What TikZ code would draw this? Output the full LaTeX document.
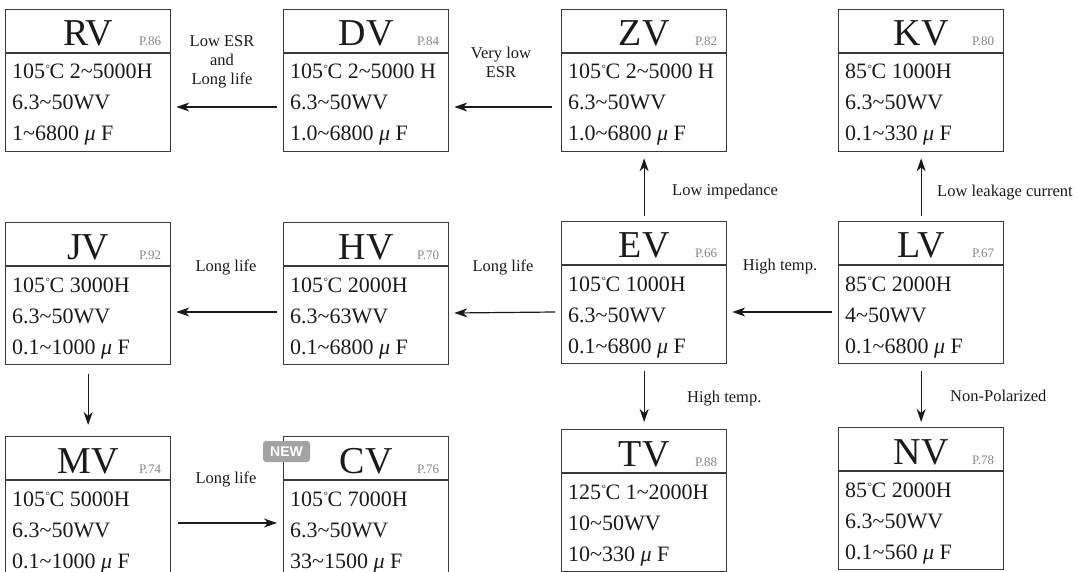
\documentclass[tikz,border=0pt]{standalone}
\usepackage{fontspec}
\setmainfont{Liberation Serif}
\newfontfamily\badgefont{Liberation Sans}
\usetikzlibrary{arrows.meta,calc}
\definecolor{framecol}{HTML}{3A3A3A}
\definecolor{pagegray}{HTML}{858585}
\definecolor{badgegray}{HTML}{A3A3A3}
\definecolor{inkcol}{HTML}{1A1A1A}
\tikzset{
  boxframe/.style={draw=framecol, line width=1.3pt, minimum width=165pt, minimum height=142pt, inner sep=0pt, anchor=north west},
  divider/.style={draw=framecol, line width=1.3pt},
  titletext/.style={font=\fontsize{38}{38}\selectfont, inner sep=0pt, anchor=base, text=inkcol},
  pagetext/.style={font=\fontsize{13}{13}\selectfont, text=pagegray, inner sep=0pt, anchor=base east},
  bodytext/.style={font=\fontsize{22}{22}\selectfont, inner sep=0pt, anchor=base west, text=inkcol},
  lbl/.style={font=\fontsize{16.5}{19}\selectfont, inner sep=0pt, text=inkcol},
  arr/.style={draw=inkcol, line width=1.2pt, -{Stealth[length=13pt,width=9pt,inset=4pt]}},
  newbadge/.style={fill=badgegray, rounded corners=3pt, text=white, font=\badgefont\bfseries\fontsize{14}{14}\selectfont, minimum width=47pt, minimum height=21pt, inner sep=0pt}
}
\newcommand\tld{\textasciitilde}
\newcommand\muF{{\itshape μ} F}
\newcommand\dgC{\kern0.5pt\raisebox{6.5pt}{\fontsize{11}{11}\selectfont °}\kern-0.5pt C}
\newcommand\capbox[8]{%
  \node[boxframe] (#1) at (#2,#3) {};
  \draw[divider] ([yshift=-44pt]#1.north west) -- ([yshift=-44pt]#1.north east);
  \node[titletext] (#1-title) at ([yshift=-37pt]#1.north) {#4};
  \node[pagetext] (#1-page) at ([xshift=-10pt,yshift=-37pt]#1.north east) {#5};
  \node[bodytext] (#1-a) at ([xshift=7pt,yshift=-70pt]#1.north west) {#6};
  \node[bodytext] (#1-b) at ([xshift=7pt,yshift=-101pt]#1.north west) {#7};
  \node[bodytext] (#1-c) at ([xshift=7pt,yshift=-132pt]#1.north west) {#8};
}
\begin{document}
\begin{tikzpicture}[x=1pt,y=-1pt]
\useasboundingbox (0,0) rectangle (1079,572);
\clip (0,0) rectangle (1079,572);
% top row
\capbox{RV}{5}{9}{RV}{P.86}{105\dgC{} 2\tld5000H}{6.3\tld50WV}{1\tld6800 \muF}
\capbox{DV}{283}{9}{DV}{P.84}{105\dgC{} 2\tld5000 H}{6.3\tld50WV}{1.0\tld6800 \muF}
\capbox{ZV}{561}{9}{ZV}{P.82}{105\dgC{} 2\tld5000 H}{6.3\tld50WV}{1.0\tld6800 \muF}
\capbox{KV}{838}{9}{KV}{P.80}{85\dgC{} 1000H}{6.3\tld50WV}{0.1\tld330 \muF}
% middle row
\capbox{JV}{5}{222}{JV}{P.92}{105\dgC{} 3000H}{6.3\tld50WV}{0.1\tld1000 \muF}
\capbox{HV}{283}{222}{HV}{P.70}{105\dgC{} 2000H}{6.3\tld63WV}{0.1\tld6800 \muF}
\capbox{EV}{561}{221}{EV}{P.66}{105\dgC{} 1000H}{6.3\tld50WV}{0.1\tld6800 \muF}
\capbox{LV}{838}{221}{LV}{P.67}{85\dgC{} 2000H}{4\tld50WV}{0.1\tld6800 \muF}
% bottom row
\capbox{MV}{5}{436}{MV}{P.74}{105\dgC{} 5000H}{6.3\tld50WV}{0.1\tld1000 \muF}
\capbox{CV}{283}{436}{CV}{P.76}{105\dgC{} 7000H}{6.3\tld50WV}{33\tld1500 \muF}
\capbox{TV}{561}{429}{TV}{P.88}{125\dgC{} 1\tld2000H}{10\tld50WV}{10\tld330 \muF}
\capbox{NV}{838}{427}{NV}{P.78}{85\dgC{} 2000H}{6.3\tld50WV}{0.1\tld560 \muF}
\node[newbadge] (new) at (286.5,451.5) {NEW};
% horizontal arrows
\draw[arr] ([xshift=-6pt,yshift=-98pt]DV.north west) -- ([xshift=5pt,yshift=-98pt]RV.north east);
\draw[arr] ([xshift=-9pt,yshift=-98pt]ZV.north west) -- ([xshift=5pt,yshift=-98pt]DV.north east);
\draw[arr] ([xshift=-6pt,yshift=-90pt]HV.north west) -- ([xshift=5pt,yshift=-90pt]JV.north east);
\draw[arr] ([xshift=-6pt,yshift=-91pt]EV.north west) -- ([xshift=5pt,yshift=-91pt]HV.north east);
\draw[arr] ([xshift=-6pt,yshift=-91pt]LV.north west) -- ([xshift=5pt,yshift=-91pt]EV.north east);
\draw[arr] ([xshift=7pt,yshift=-87pt]MV.north east) -- ([xshift=-6pt,yshift=-87pt]CV.north west);
% vertical arrows
\draw[arr] ([yshift=5pt]EV.north) -- ([yshift=-6pt]ZV.south);
\draw[arr] ([yshift=5pt]LV.north) -- ([yshift=-6pt]KV.south);
\draw[arr] ([yshift=-9pt]JV.south) -- ([yshift=11pt]MV.north);
\draw[arr] ([yshift=-7pt]EV.south) -- ([yshift=7pt]TV.north);
\draw[arr] ([yshift=-7pt]LV.south) -- ([yshift=5pt]NV.north);
% labels
\node[lbl, align=center] (l1) at (222,62) {Low ESR\\and\\Long life};
\node[lbl, align=center] (l2) at (501,62) {Very low\\ESR};
\node[lbl, anchor=base west] (l3) at (672,196) {Low impedance};
\node[lbl, anchor=base west] (l4) at (937,197) {Low leakage current};
\node[lbl, anchor=base] (l5) at (226,271) {Long life};
\node[lbl, anchor=base] (l6) at (503,271) {Long life};
\node[lbl, anchor=base] (l7) at (780,270) {High temp.};
\node[lbl, anchor=base west] (l8) at (687,402) {High temp.};
\node[lbl, anchor=base west] (l9) at (950,401) {Non-Polarized};
\node[lbl, anchor=base] (l10) at (226,483) {Long life};
\end{tikzpicture}
\end{document}
